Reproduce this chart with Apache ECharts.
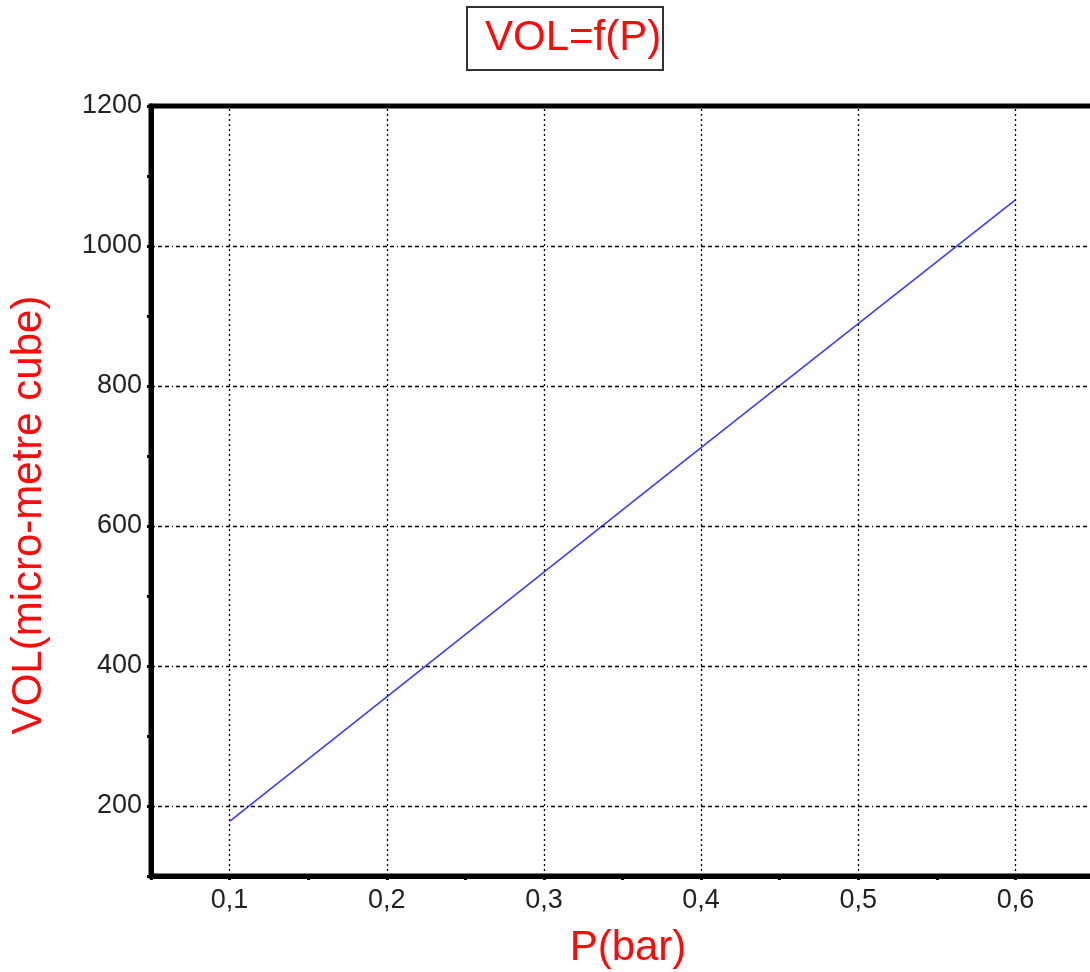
<!DOCTYPE html>
<html>
<head>
<meta charset="utf-8">
<script src="https://cdn.jsdelivr.net/npm/echarts@6/dist/echarts.min.js"></script>
<style>
  html, body { margin: 0; padding: 0; background: #fff; overflow: hidden; }
  #chart { width: 1100px; height: 972px; }
</style>
</head>
<body>
<div id="chart"></div>
<script>
// Data
const pressure = [0.1, 0.2, 0.3, 0.4, 0.5, 0.6];          // P (bar)
const volume   = [178, 356, 534, 712, 889, 1066];          // VOL (micro-metre cube)
const xGridValues = [0.1, 0.2, 0.3, 0.4, 0.5, 0.6];
const yGridValues = [200, 400, 600, 800, 1000, 1200];

const titleText = 'VOL=f(P)';
const xName = 'P(bar)';
const yName = 'VOL(micro-metre cube)';

const FONT = "'Liberation Sans', Arial, sans-serif";
const RED = '#ff0a0a';

const chart = echarts.init(document.getElementById('chart'), null, { renderer: 'canvas' });

const seriesData = pressure.map((p, i) => [p, volume[i]]);

const option = {
  animation: false,
  backgroundColor: '#ffffff',
  title: {
    text: titleText,
    left: 467,
    top: 7,
    padding: [6, 2, 7, 18],
    borderColor: '#333',
    borderWidth: 2,
    textStyle: { color: RED, fontFamily: FONT, fontSize: 42, fontWeight: 'normal', lineHeight: 50 }
  },
  grid: {
    left: 151,
    top: 106,
    width: 943,
    height: 770,
    show: true,
    borderColor: '#000',
    borderWidth: 5,
    backgroundColor: 'transparent',
    containLabel: false
  },
  graphic: [
    {
      type: 'text',
      x: 29, y: 515,
      rotation: Math.PI / 2,
      style: { text: yName, fill: RED, font: '42px ' + FONT, textAlign: 'center', textVerticalAlign: 'middle' }
    },
    {
      type: 'text',
      x: 628, y: 948,
      style: { text: xName, fill: RED, font: '42px ' + FONT, textAlign: 'center', textVerticalAlign: 'middle' }
    }
  ],
  xAxis: {
    type: 'value',
    min: 0.05,
    max: 0.65,
    interval: 0.05,
    axisLine: { show: true, lineStyle: { color: '#000', width: 5 } },
    axisTick: { show: true, inside: false, length: 4, lineStyle: { color: '#000', width: 3 } },
    axisLabel: {
      margin: 11,
      color: '#222',
      fontFamily: FONT,
      fontSize: 27,
      showMinLabel: true,
      showMaxLabel: true,
      formatter: v => (Math.round(v * 100) % 10 === 0 ? (Math.round(v * 10) / 10).toFixed(1).replace('.', ',') : '')
    },
    splitLine: { show: false }
  },
  yAxis: {
    type: 'value',
    min: 100,
    max: 1200,
    interval: 100,
    axisLine: { show: true, lineStyle: { color: '#000', width: 5 } },
    axisTick: { show: true, inside: false, length: 4, lineStyle: { color: '#000', width: 3 } },
    axisLabel: {
      margin: 9,
      color: '#222',
      fontFamily: FONT,
      fontSize: 27,
      formatter: v => (Math.round(v) % 200 === 0 ? String(Math.round(v)) : '')
    },
    splitLine: { show: false }
  },
  series: [
    {
      type: 'line',
      data: seriesData,
      showSymbol: false,
      symbol: 'none',
      lineStyle: { color: '#3c3cff', width: 1.6 },
      z: 3,
      markLine: {
        silent: true,
        symbol: ['none', 'none'],
        label: { show: false },
        animation: false,
        data: [
          ...xGridValues.map(v => ({ xAxis: v, lineStyle: { color: '#000', width: 1.3, type: [2, 3] } })),
          ...yGridValues.map(v => ({ yAxis: v, lineStyle: { color: '#000', width: 1.3, type: [4, 3, 4, 3, 4, 3, 1, 3] } }))
        ]
      }
    }
  ]
};

chart.setOption(option);
</script>
</body>
</html>
